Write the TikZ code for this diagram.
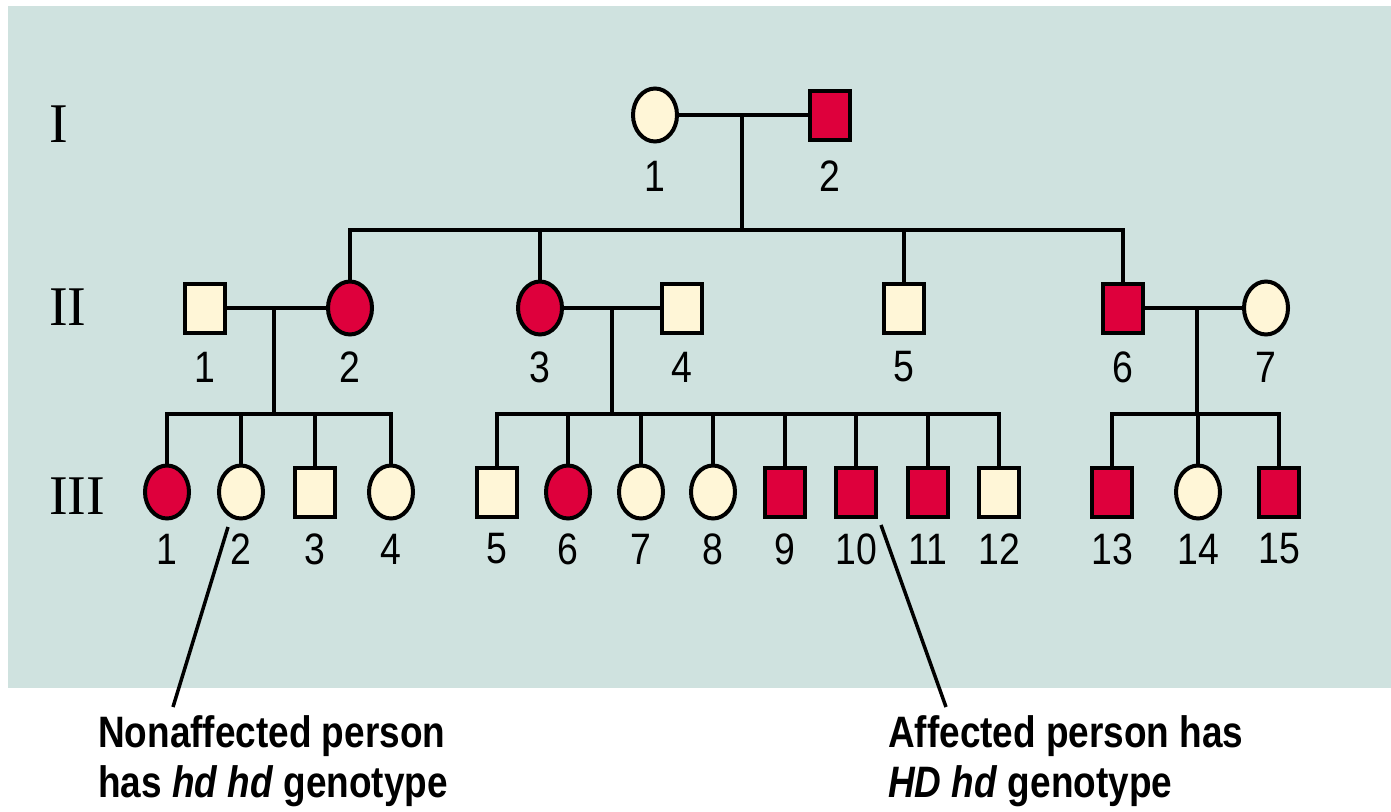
\documentclass[tikz,border=0pt]{standalone}
\usepackage{fontspec}
\usetikzlibrary{shapes.geometric}
\newfontfamily\numfont[FakeStretch=0.85]{Liberation Sans}
\newfontfamily\notefont[FakeStretch=0.84]{Liberation Sans}
\newfontfamily\genfont{Liberation Serif}
\definecolor{panel}{RGB}{207,226,223}
\definecolor{hdred}{RGB}{222,0,60}
\definecolor{cream}{RGB}{255,246,215}
\tikzset{
  line/.style={line width=4pt},
  male/.style={rectangle, draw, line width=4pt, minimum width=40pt, minimum height=49pt, inner sep=0pt},
  female/.style={ellipse, draw, line width=4pt, minimum width=44pt, minimum height=53pt, inner sep=0pt},
  aff/.style={fill=hdred},
  unaff/.style={fill=cream},
  num/.style={inner sep=0pt, font=\numfont\fontsize{44}{44}\selectfont},
  gen/.style={inner sep=0pt, anchor=west, font=\genfont\fontsize{56}{56}\selectfont},
  note/.style={inner sep=0pt, anchor=base west, font=\notefont\bfseries\fontsize{44}{48}\selectfont},
}
\begin{document}
\begin{tikzpicture}[x=1pt,y=-1pt]
  \useasboundingbox (0,0) rectangle (1391,811);
  \fill[panel] (8,6) rectangle (1391,688);

  % generation numerals
  \node[gen] (gI) at (49,124) {I};
  \node[gen] (gII) at (49,307) {II};
  \node[gen] (gIII) at (49,496) {III};

  % generation I
  \node[female, unaff] (I1) at (655,115) {};
  \node[male, aff] (I2) at (830,115) {};

  % generation II
  \node[male, unaff]   (II1) at (205,308) {};
  \node[female, aff]   (II2) at (350,308) {};
  \node[female, aff]   (II3) at (540,308) {};
  \node[male, unaff]   (II4) at (682,308) {};
  \node[male, unaff]   (II5) at (904,308) {};
  \node[male, aff]     (II6) at (1123,308) {};
  \node[female, unaff] (II7) at (1266,308) {};

  % generation III
  \node[female, aff]   (III1)  at (167,492) {};
  \node[female, unaff] (III2)  at (241,492) {};
  \node[male, unaff]   (III3)  at (315,492) {};
  \node[female, unaff] (III4)  at (391,492) {};
  \node[male, unaff]   (III5)  at (497,492) {};
  \node[female, aff]   (III6)  at (568,492) {};
  \node[female, unaff] (III7)  at (641,492) {};
  \node[female, unaff] (III8)  at (713,492) {};
  \node[male, aff]     (III9)  at (785,492) {};
  \node[male, aff]     (III10) at (856,492) {};
  \node[male, aff]     (III11) at (928,492) {};
  \node[male, unaff]   (III12) at (999,492) {};
  \node[male, aff]     (III13) at (1112,492) {};
  \node[female, unaff] (III14) at (1198,492) {};
  \node[male, aff]     (III15) at (1279,492) {};

  % marriage points and sibship lines
  \coordinate (mI)  at (742,115);
  \coordinate (sI)  at (742,230);
  \coordinate (mA)  at (274,308);
  \coordinate (sA)  at (274,414);
  \coordinate (mB)  at (612,308);
  \coordinate (sB)  at (612,414);
  \coordinate (mC)  at (1197,308);
  \coordinate (sC)  at (1197,414);

  % generation I couple and offspring
  \draw[line] (I1.east) -- (I2.west);
  \draw[line] (mI) -- (sI);
  \draw[line] (II2.north) -- (II2.north |- sI) -- (II6.north |- sI) -- (II6.north);
  \draw[line] (II3.north |- sI) -- (II3.north);
  \draw[line] (II5.north |- sI) -- (II5.north);

  % family II-1 x II-2
  \draw[line] (II1.east) -- (II2.west);
  \draw[line] (mA) -- (sA);
  \draw[line] (III1.north) -- (III1.north |- sA) -- (III4.north |- sA) -- (III4.north);
  \foreach \c in {III2,III3} \draw[line] (\c.north |- sA) -- (\c.north);

  % family II-3 x II-4
  \draw[line] (II3.east) -- (II4.west);
  \draw[line] (mB) -- (sB);
  \draw[line] (III5.north) -- (III5.north |- sB) -- (III12.north |- sB) -- (III12.north);
  \foreach \c in {III6,III7,III8,III9,III10,III11} \draw[line] (\c.north |- sB) -- (\c.north);

  % family II-6 x II-7
  \draw[line] (II6.east) -- (II7.west);
  \draw[line] (mC) -- (sC);
  \draw[line] (III13.north) -- (III13.north |- sC) -- (III15.north |- sC) -- (III15.north);
  \draw[line] (III14.north |- sC) -- (III14.north);

  % individual numbers
  \node[num] (nI1) at (655,176) {1};
  \node[num] (nI2) at (830,176) {2};
  \foreach \i/\x in {1/205,2/350,3/540,4/682,5/904,6/1123,7/1266}
    \node[num] (nII\i) at (\x,367) {\i};
  \foreach \i/\x in {1/167,2/241,3/315,4/391,5/497,6/568,7/641,8/713,9/785,10/856,11/928,12/999,13/1112,14/1198,15/1279}
    \node[num] (nIII\i) at (\x,549) {\i};

  % annotations
  \node[note] (noteA1) at (98,747) {Nonaffected person};
  \node[note] (noteA2) at (98,797) {has \textit{hd hd} genotype};
  \node[note] (noteB1) at (888,747) {Affected person has};
  \node[note] (noteB2) at (888,797) {\textit{HD hd} genotype};

  \coordinate (pA1) at (228,527);
  \coordinate (pA2) at (173,707);
  \coordinate (pB1) at (881,525);
  \coordinate (pB2) at (946,707);
  \draw[line, line width=3.5pt] (pA1) -- (pA2);
  \draw[line, line width=3.5pt] (pB1) -- (pB2);
\end{tikzpicture}
\end{document}
